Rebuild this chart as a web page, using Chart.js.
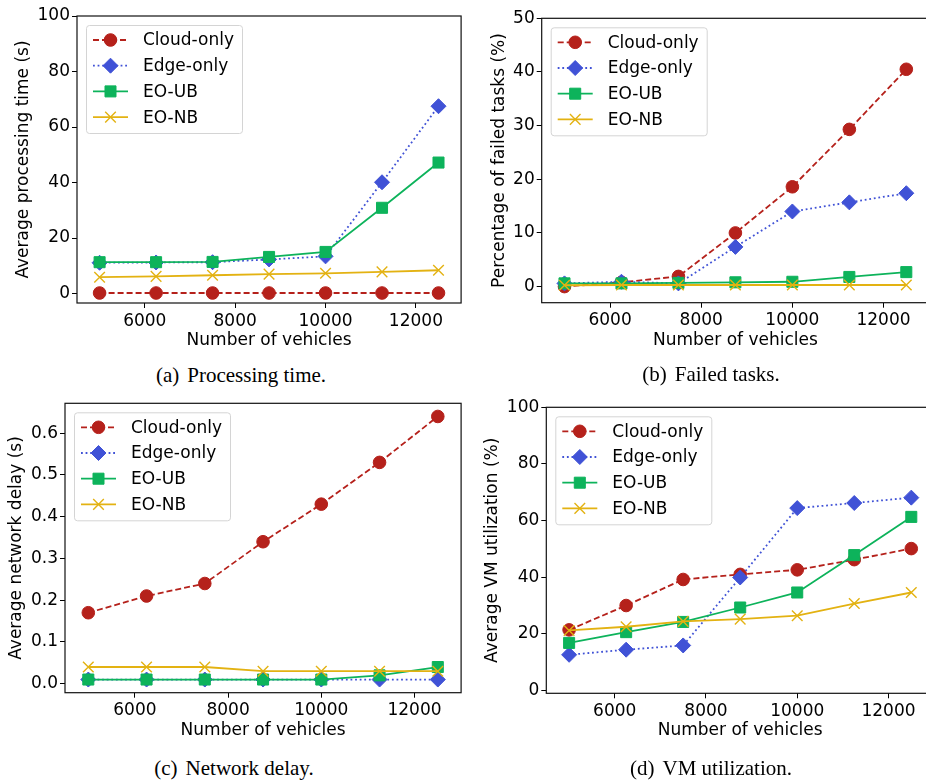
<!DOCTYPE html>
<html>
<head>
<meta charset="utf-8">
<script src="https://cdn.jsdelivr.net/npm/chart.js@4.4.0/dist/chart.umd.min.js"></script>
<style>
  body { margin: 0; background: #fff; }
  #page { position: relative; width: 926px; height: 780px; overflow: hidden; background: #fff; }
  canvas { position: absolute; }
  .caption {
    position: absolute;
    font-family: 'Liberation Serif', 'Times New Roman', serif;
    font-size: 21px;
    color: #000;
    white-space: nowrap;
    transform: translate(-50%, -50%);
  }
  .caption span { margin-left: 8px; }
</style>
</head>
<body>
<div id="page">
  <canvas id="procChart"></canvas>
  <canvas id="failChart"></canvas>
  <canvas id="delayChart"></canvas>
  <canvas id="vmChart"></canvas>
  <div class="caption" style="left:241px; top:375px">(a)<span>Processing time.</span></div>
  <div class="caption" style="left:711px; top:374px">(b)<span>Failed tasks.</span></div>
  <div class="caption" style="left:234px; top:768px">(c)<span>Network delay.</span></div>
  <div class="caption" style="left:711px; top:768px">(d)<span>VM utilization.</span></div>
</div>
<script>
// x values and tick labels
const vehicles = [5000, 6250, 7500, 8750, 10000, 11250, 12500];
const xTicks = [6000, 8000, 10000, 12000];
const seriesNames = ['Cloud-only', 'Edge-only', 'EO-UB', 'EO-NB'];

// (a) average processing time (s)
const procCloud = [0.2, 0.2, 0.2, 0.2, 0.2, 0.2, 0.2];
const procEdge  = [11.1, 11.2, 11.3, 12.3, 13.4, 40.1, 67.5];
const procUB    = [11.3, 11.3, 11.4, 13.2, 15.0, 30.9, 47.2];
const procNB    = [5.9, 6.2, 6.6, 7.0, 7.3, 7.8, 8.4];
const procTicks = [0, 20, 40, 60, 80, 100];

// (b) percentage of failed tasks (%)
const failCloud = [0.0, 0.8, 1.9, 10.0, 18.6, 29.3, 40.5];
const failEdge  = [0.6, 0.9, 0.6, 7.4, 14.0, 15.7, 17.4];
const failUB    = [0.6, 0.6, 0.7, 0.8, 0.9, 1.8, 2.7];
const failNB    = [0.25, 0.3, 0.3, 0.3, 0.3, 0.3, 0.3];
const failTicks = [0, 10, 20, 30, 40, 50];

// (c) average network delay (s)
const delayCloud = [0.17, 0.21, 0.24, 0.34, 0.43, 0.53, 0.64];
const delayEdge  = [0.01, 0.01, 0.01, 0.01, 0.01, 0.01, 0.01];
const delayUB    = [0.01, 0.01, 0.01, 0.01, 0.01, 0.02, 0.04];
const delayNB    = [0.04, 0.04, 0.04, 0.03, 0.03, 0.03, 0.03];
const delayTicks = [0, 0.1, 0.2, 0.3, 0.4, 0.5, 0.6];

// (d) average VM utilization (%)
const vmCloud = [21.4, 30.0, 39.2, 41.0, 42.6, 46.2, 50.1];
const vmEdge  = [12.6, 14.4, 15.9, 39.9, 64.4, 66.2, 68.1];
const vmUB    = [16.8, 20.6, 24.2, 29.3, 34.6, 47.8, 61.3];
const vmNB    = [21.2, 22.5, 24.4, 25.2, 26.4, 30.7, 34.6];
const vmTicks = [0, 20, 40, 60, 80, 100];

const styles = [
  { color: '#b5211b', dash: [6, 3],     point: 'circle',   radius: 6.3, pbw: 1 },
  { color: '#4052d6', dash: [1.8, 2.8], point: 'rectRot',  radius: 7.5, pbw: 1 },
  { color: '#0db35b', dash: [],         point: 'rect',     radius: 7.8, pbw: 1 },
  { color: '#e3b212', dash: [],         point: 'crossRot', radius: 7.5, pbw: 1.4 }
];

Chart.defaults.font.family = "'DejaVu Sans', sans-serif";
Chart.defaults.font.size = 17;
Chart.defaults.color = '#000';

// axes frame and matplotlib-like legend box
const frameLegend = {
  id: 'frameLegend',
  afterDatasetsDraw(chart) {
    const { ctx, chartArea: a } = chart;
    ctx.save();
    ctx.strokeStyle = '#111';
    ctx.lineWidth = 1.2;
    ctx.setLineDash([]);
    ctx.strokeRect(a.left, a.top, a.right - a.left, a.bottom - a.top);

    const x0 = a.left + 9, y0 = a.top + 9;
    ctx.beginPath();
    ctx.roundRect(x0 + 0.5, y0 + 0.5, 156, 108, 3);
    ctx.fillStyle = 'rgba(255,255,255,0.85)';
    ctx.fill();
    ctx.strokeStyle = '#d4d4d4';
    ctx.lineWidth = 1;
    ctx.stroke();

    chart.data.datasets.forEach((ds, i) => {
      const y = y0 + 15 + i * 25.7;
      ctx.strokeStyle = ds.borderColor;
      ctx.lineWidth = ds.borderWidth;
      ctx.setLineDash(ds.borderDash);
      ctx.beginPath();
      ctx.moveTo(x0 + 7, y);
      ctx.lineTo(x0 + 42, y);
      ctx.stroke();
      ctx.setLineDash([]);
      ctx.fillStyle = ds.pointBackgroundColor;
      ctx.strokeStyle = ds.pointBorderColor;
      ctx.lineWidth = ds.pointBorderWidth;
      Chart.helpers.drawPoint(ctx, {
        pointStyle: ds.pointStyle, radius: ds.pointRadius,
        borderWidth: ds.pointBorderWidth, rotation: 0
      }, x0 + 24.5, y);
      ctx.fillStyle = '#000';
      ctx.font = "17px 'DejaVu Sans', sans-serif";
      ctx.textBaseline = 'middle';
      ctx.textAlign = 'left';
      ctx.fillText(ds.label, x0 + 57, y + 1);
    });
    ctx.restore();
  }
};

function makeChart(id, box, yTitle, values, yMin, yMax, yTicks, decimals) {
  const canvas = document.getElementById(id);
  canvas.width = box.width;
  canvas.height = box.height;
  canvas.style.left = box.left + 'px';
  canvas.style.top = box.top + 'px';
  const [aL, aT, aR, aB] = box.area;
  const lh = 17 * 1.2;

  return new Chart(canvas, {
    type: 'line',
    data: {
      datasets: values.map((vals, i) => ({
        label: seriesNames[i],
        data: vehicles.map((x, j) => ({ x: x, y: vals[j] })),
        borderColor: styles[i].color,
        backgroundColor: styles[i].color,
        borderWidth: 1.8,
        borderDash: styles[i].dash,
        pointStyle: styles[i].point,
        pointRadius: styles[i].radius,
        pointBorderWidth: styles[i].pbw,
        pointBackgroundColor: styles[i].color,
        pointBorderColor: styles[i].color,
        order: values.length - 1 - i,
        tension: 0,
        fill: false
      }))
    },
    options: {
      responsive: false,
      animation: false,
      devicePixelRatio: 1,
      layout: { padding: { left: 0, top: aT - box.top, right: box.left + box.width - aR, bottom: 0 } },
      plugins: { legend: { display: false }, tooltip: { enabled: false } },
      scales: {
        x: {
          type: 'linear', min: 4500, max: 13000,
          afterBuildTicks: s => { s.ticks = xTicks.map(v => ({ value: v })); },
          afterFit: s => { s.height = box.top + box.height - aB; },
          ticks: { callback: v => String(v), padding: 3, color: '#000', maxRotation: 0 },
          grid: { drawOnChartArea: false, drawTicks: true, tickLength: 5, color: '#000' },
          border: { display: false },
          title: {
            display: true, text: 'Number of vehicles', color: '#000',
            padding: { top: 0, bottom: box.top + box.height - box.xTitleY - lh / 2 }
          }
        },
        y: {
          type: 'linear', min: yMin, max: yMax,
          afterBuildTicks: s => { s.ticks = yTicks.map(v => ({ value: v })); },
          afterFit: s => { s.width = aL - box.left; },
          ticks: { callback: v => v.toFixed(decimals), padding: 2, color: '#000' },
          grid: { drawOnChartArea: false, drawTicks: true, tickLength: 5, color: '#000' },
          border: { display: false },
          title: {
            display: true, text: yTitle, color: '#000',
            padding: { top: box.yTitleX - box.left - lh / 2, bottom: 0 }
          }
        }
      }
    },
    plugins: [frameLegend]
  });
}

makeChart('procChart',
  { left: 0, top: 0, width: 470, height: 360, area: [77, 16, 468, 303], yTitleX: 23.5, xTitleY: 341 },
  'Average processing time (s)', [procCloud, procEdge, procUB, procNB], -3.4, 100, procTicks, 0);

makeChart('failChart',
  { left: 463, top: 0, width: 475, height: 360, area: [541.7, 18.3, 933, 302.7], yTitleX: 500, xTitleY: 341 },
  'Percentage of failed tasks (%)', [failCloud, failEdge, failUB, failNB], -3, 50, failTicks, 0);

makeChart('delayChart',
  { left: 0, top: 390, width: 470, height: 360, area: [65, 403.3, 461.7, 692.7], yTitleX: 17, xTitleY: 731 },
  'Average network delay (s)', [delayCloud, delayEdge, delayUB, delayNB], -0.0215, 0.6715, delayTicks, 1);

makeChart('vmChart',
  { left: 463, top: 390, width: 480, height: 360, area: [546.3, 407.3, 937, 693.3], yTitleX: 492.3, xTitleY: 731 },
  'Average VM utilization (%)', [vmCloud, vmEdge, vmUB, vmNB], -1, 100, vmTicks, 0);
</script>
</body>
</html>
